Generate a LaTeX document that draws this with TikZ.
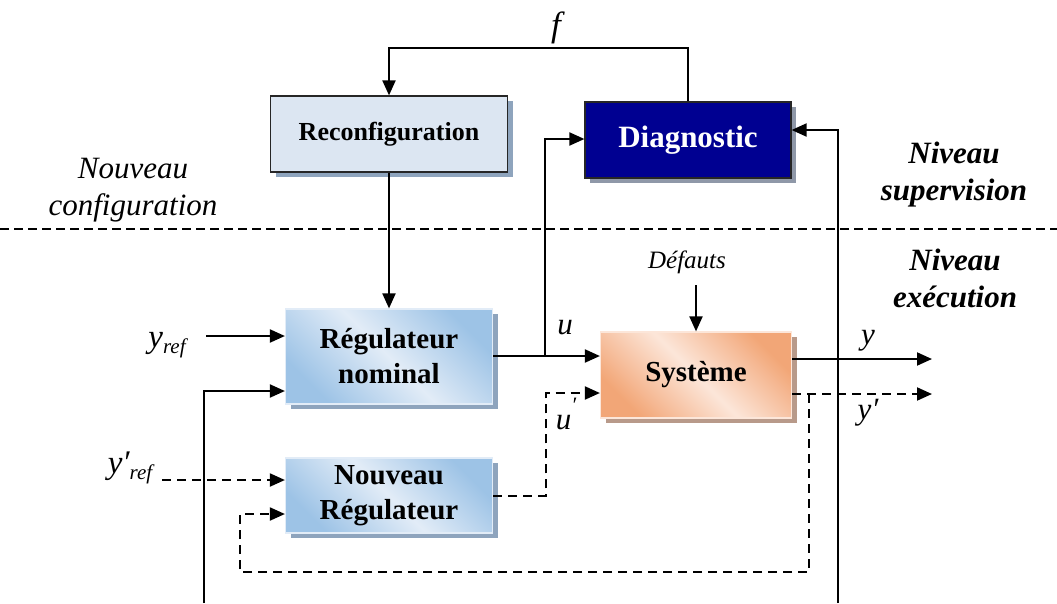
\documentclass[tikz,border=0pt]{standalone}
\usepackage{fontspec}
\setmainfont{Liberation Serif}
\usetikzlibrary{arrows.meta,shadows,calc}
\definecolor{reconfC}{HTML}{DCE6F2}
\definecolor{diagC}{RGB}{0,0,145}
\definecolor{shadowblue}{HTML}{8EA4BD}
\definecolor{shadowgray}{HTML}{8F98A8}
\definecolor{blueD}{HTML}{9DC3E6}
\definecolor{blueL}{HTML}{E2ECF7}
\definecolor{orD}{HTML}{F2A677}
\definecolor{orL}{HTML}{FCE6D9}
\definecolor{shadowor}{HTML}{B89A8A}
\begin{document}
\begin{tikzpicture}[x=1pt,y=-1pt,
  line/.style={line width=2pt},
  arr/.style={line, -{Triangle[length=15pt,width=13pt]}},
  darr/.style={arr, dash pattern=on 9pt off 6pt},
  flatbox/.style={line width=1.2pt, inner sep=0pt, align=center},
  gradblue/.style={inner sep=0pt, align=center, draw=blueL, line width=1.2pt,
     top color=blueD, bottom color=blueD, middle color=blueL, shading angle=-45,
     drop shadow={shadow xshift=5pt, shadow yshift=-5pt, fill=shadowblue, opacity=1},
     font=\fontsize{29}{35}\selectfont\bfseries},
  gradorange/.style={inner sep=0pt, align=center, draw=orL, line width=1.2pt,
     top color=orD, bottom color=orD, middle color=orL, shading angle=-45,
     drop shadow={shadow xshift=5pt, shadow yshift=-5pt, fill=shadowor, opacity=1},
     font=\fontsize{29}{35}\selectfont\bfseries},
  lab/.style={inner sep=0pt, font=\fontsize{31}{37}\selectfont\itshape, align=center},
  blab/.style={lab, font=\fontsize{31}{37}\selectfont\bfseries\itshape}
]
\useasboundingbox (0,0) rectangle (1057,603);

% separator
\draw[line, dash pattern=on 9pt off 5pt] (0,229) -- (1057,229);

% boxes
\node[flatbox, draw=black!85, fill=reconfC, minimum width=237pt, minimum height=76pt,
      drop shadow={shadow xshift=5pt, shadow yshift=-5pt, fill=shadowblue, opacity=1},
      font=\fontsize{26}{30}\selectfont\bfseries] (reconf) at (389,134) {Reconfiguration};
\node[flatbox, draw=black!85, fill=diagC, text=white, minimum width=206pt, minimum height=76pt,
      drop shadow={shadow xshift=5pt, shadow yshift=-5pt, fill=shadowgray, opacity=1},
      font=\fontsize{31}{36}\selectfont\bfseries] (diag) at (688,140) {Diagnostic};
\node[gradblue, minimum width=207pt, minimum height=95pt] (regnom) at (389,356.5) {Régulateur\\nominal};
\node[gradblue, minimum width=207pt, minimum height=75pt] (nreg) at (389,495.5) {Nouveau\\Régulateur};
\node[gradorange, minimum width=191pt, minimum height=86pt] (sys) at (696,375) {Système};

% labels
\node[lab, font=\fontsize{35}{40}\selectfont\itshape] (flab) at (556,28) {f};
\node[lab] (nconf) at (133,190) {Nouveau\\configuration};
\node[blab] (nsup) at (954,175) {Niveau\\supervision};
\node[blab] (nexe) at (955,278) {Niveau\\exécution};
\node[lab, font=\fontsize{25}{30}\selectfont\itshape] (defl) at (687,262) {Défauts};
\node[lab] (ulab) at (565,328) {u};
\node[lab] (uplab) at (566,414) {u\raisebox{0.55em}{\fontsize{22}{24}\selectfont ′}};
\node[lab] (ylab) at (868,341) {y};
\node[lab] (yplab) at (868,413) {y′};
\node[lab, font=\fontsize{33}{37}\selectfont\itshape] (yref) at (167,345) {y\raisebox{-0.2em}{\fontsize{21}{24}\selectfont ref}};
\node[lab, font=\fontsize{33}{37}\selectfont\itshape] (ypref) at (130,468) {y′\raisebox{-0.2em}{\fontsize{21}{24}\selectfont ref}};

% coordinates
\coordinate (ftop) at (688,48);
\coordinate (uj) at (545,356);
\coordinate (dl) at (545,139);
\coordinate (rb) at (838,603);
\coordinate (dr) at (838,130);
\coordinate (yrefS) at (206,336);
\coordinate (fbS) at (204,603);
\coordinate (fbC) at (204,391);
\coordinate (yprS) at (162,480);
\coordinate (upC) at (546,393);
\coordinate (defS) at (696,285);
\coordinate (yout) at (932,359);
\coordinate (ypout) at (932,394);
\coordinate (d1) at (809,394);
\coordinate (d2) at (809,572);
\coordinate (d3) at (240,572);
\coordinate (d4) at (240,514);

% connectors
\draw[arr] (diag.north) -- (diag.north |- ftop) -| (reconf.north);
\draw[arr] (reconf.south) -- (regnom.north);
\draw[arr] (regnom.east |- uj) -- (sys.west |- uj);
\draw[arr] (uj) -- (dl) -- (diag.west |- dl);
\draw[arr] (rb) -- (dr) -- (diag.east |- dr);
\draw[arr] (yrefS) -- (regnom.west |- yrefS);
\draw[arr] (fbS) -- (fbC) -- (regnom.west |- fbC);
\draw[darr] (yprS) -- (nreg.west |- yprS);
\draw[darr] (nreg.east) -| (upC) -- (sys.west |- upC);
\draw[arr] (defS) -- (sys.north);
\draw[arr] (sys.east |- yout) -- (yout);
\draw[darr] (sys.east |- ypout) -- (ypout);
\draw[darr] (d1) -- (d2) -- (d3) -- (d4) -- (nreg.west |- d4);
\end{tikzpicture}
\end{document}
